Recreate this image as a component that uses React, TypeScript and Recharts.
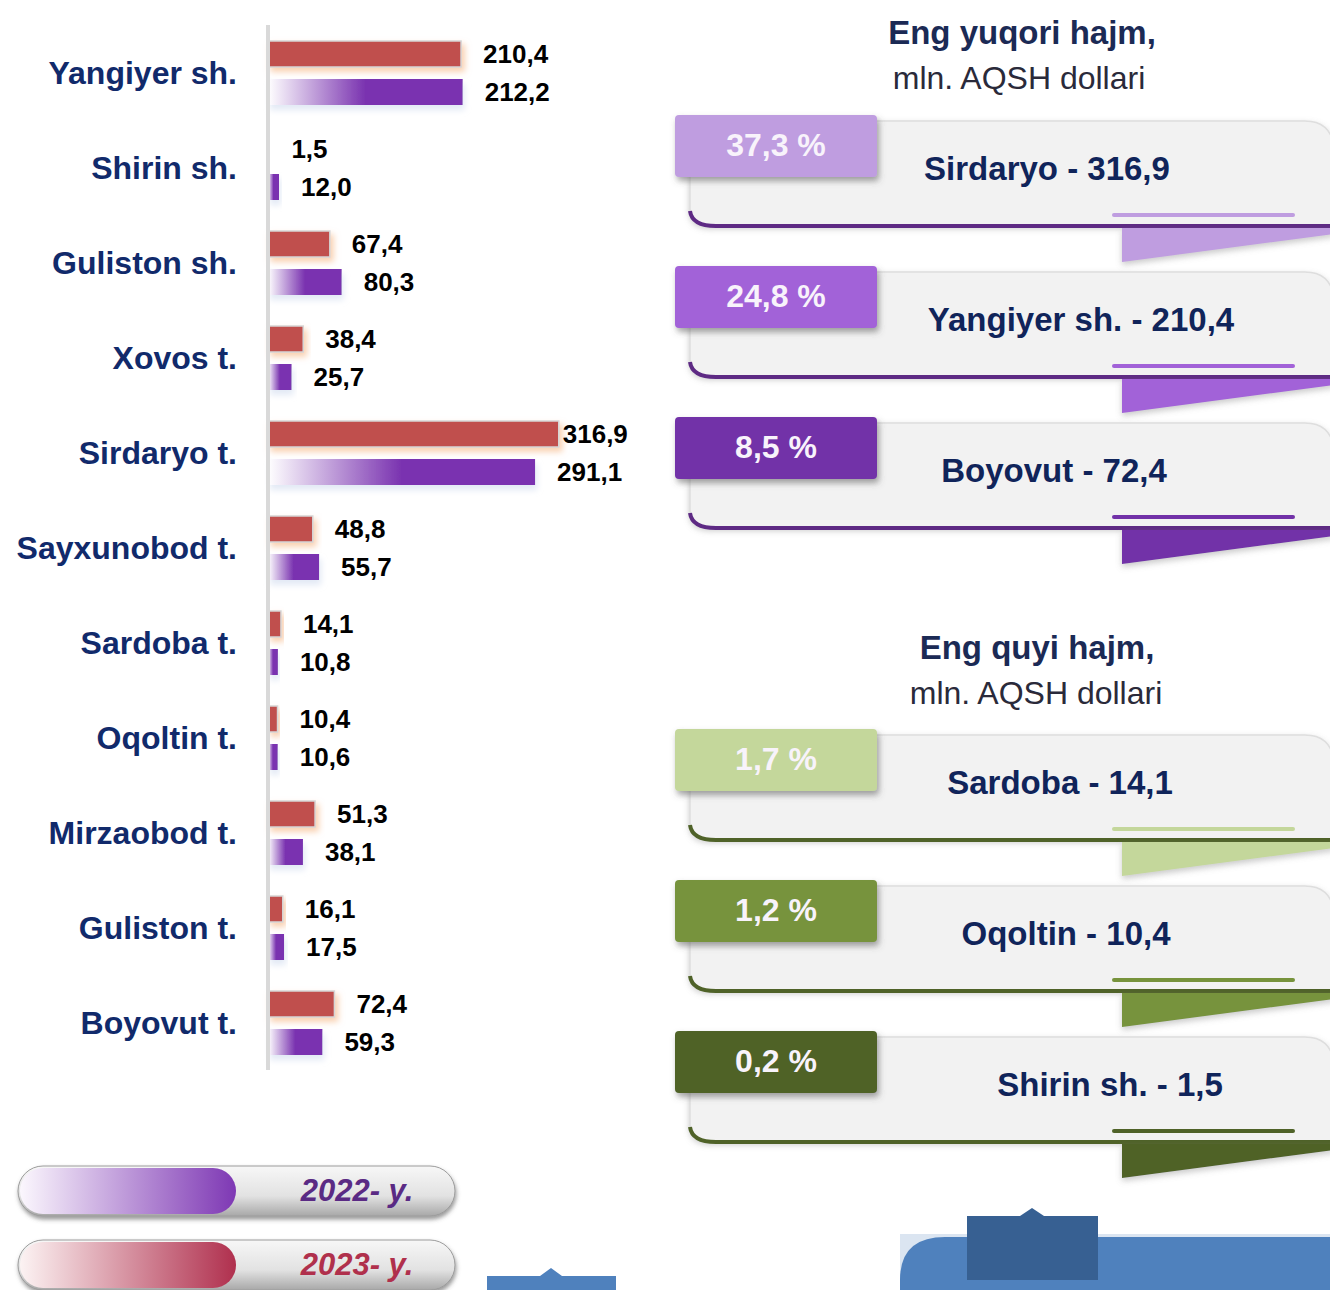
import { BarChart, Bar, XAxis, YAxis, LabelList, Legend } from "recharts";

const categories = [
  "Yangiyer sh.",
  "Shirin sh.",
  "Guliston sh.",
  "Xovos t.",
  "Sirdaryo t.",
  "Sayxunobod t.",
  "Sardoba t.",
  "Oqoltin t.",
  "Mirzaobod t.",
  "Guliston t.",
  "Boyovut t.",
];
const values2023 = [210.4, 1.5, 67.4, 38.4, 316.9, 48.8, 14.1, 10.4, 51.3, 16.1, 72.4];
const values2022 = [212.2, 12.0, 80.3, 25.7, 291.1, 55.7, 10.8, 10.6, 38.1, 17.5, 59.3];

const topShares = ["37,3 %", "24,8 %", "8,5 %"];
const topNames = ["Sirdaryo - 316,9", "Yangiyer sh. - 210,4", "Boyovut - 72,4"];
const bottomShares = ["1,7 %", "1,2 %", "0,2 %"];
const bottomNames = ["Sardoba - 14,1", "Oqoltin - 10,4", "Shirin sh. - 1,5"];

const data = categories.map((name, i) => ({
  name,
  y2023: values2023[i],
  y2022: values2022[i],
}));

const FONT = "'Liberation Sans', Arial, Helvetica, sans-serif";
const NAVY = "#112a6b";

const fmt = (v: number) => v.toFixed(1).replace(".", ",");

function CategoryTick({ y, payload }: any) {
  return (
    <text
      x={237}
      y={y}
      textAnchor="end"
      dominantBaseline="central"
      fontFamily={FONT}
      fontSize={32}
      fontWeight="bold"
      fill={NAVY}
    >
      {payload.value}
    </text>
  );
}

const renderValue = (props: any) => {
  const { x, y, width, height, value } = props;
  const gap = value > 300 ? 4 : 22;
  return (
    <text
      x={x + width + gap}
      y={y + height / 2}
      dominantBaseline="central"
      fontFamily={FONT}
      fontSize={26}
      fontWeight="bold"
      fill="#000"
    >
      {fmt(value)}
    </text>
  );
};

const RedBar = (p: any) => (
  <rect
    x={p.x}
    y={p.y}
    width={Math.max(p.width, 0)}
    height={p.height}
    fill="#c0504d"
    stroke="#d6d6d6"
    strokeWidth={1.5}
    filter="url(#glowRed)"
  />
);

const PurpleBar = (p: any) => (
  <rect
    x={p.x}
    y={p.y}
    width={Math.max(p.width, 0)}
    height={p.height}
    fill="url(#gradPurple)"
    filter="url(#glowBlue)"
  />
);

function LegendPills() {
  const pills = [
    { y: 6, label: "2022- y.", grad: "url(#pillPurple)", color: "#5a2a84" },
    { y: 80, label: "2023- y.", grad: "url(#pillRed)", color: "#b0304c" },
  ];
  return (
    <svg width={470} height={135} style={{ display: "block" }}>
      <defs>
        <linearGradient id="pillBody" x1="0" y1="0" x2="0" y2="1">
          <stop offset="0%" stopColor="#f7f7f7" />
          <stop offset="60%" stopColor="#e2e2e2" />
          <stop offset="100%" stopColor="#a8a8a8" />
        </linearGradient>
        <linearGradient id="pillPurple" x1="0" y1="0" x2="1" y2="0">
          <stop offset="0%" stopColor="#fbf7fd" />
          <stop offset="100%" stopColor="#7e38b4" />
        </linearGradient>
        <linearGradient id="pillRed" x1="0" y1="0" x2="1" y2="0">
          <stop offset="0%" stopColor="#fcf3f3" />
          <stop offset="100%" stopColor="#b0304e" />
        </linearGradient>
        <filter id="pillShadow" x="-5%" y="-20%" width="110%" height="150%">
          <feDropShadow dx="1" dy="3" stdDeviation="2" floodColor="#555" floodOpacity="0.6" />
        </filter>
      </defs>
      {pills.map((p) => (
        <g key={p.label}>
          <rect
            x={18}
            y={p.y}
            width={437}
            height={50}
            rx={25}
            fill="url(#pillBody)"
            stroke="#9c9c9c"
            strokeWidth={1}
            filter="url(#pillShadow)"
          />
          <rect x={20} y={p.y + 2} width={216} height={46} rx={23} fill={p.grad} />
          <text
            x={357}
            y={p.y + 24}
            textAnchor="middle"
            dominantBaseline="central"
            fontFamily={FONT}
            fontSize={31}
            fontWeight="bold"
            fontStyle="italic"
            fill={p.color}
          >
            {p.label}
          </text>
        </g>
      ))}
    </svg>
  );
}

const purpleTabs = ["#bf9de0", "#a262d8", "#7232a8"];
const greenTabs = ["#c4d79b", "#77933c", "#4f6228"];
const topY = [115, 266, 417];
const bottomY = [729, 880, 1031];
const topTextX = [1047, 1081, 1054];
const bottomTextX = [1060, 1066, 1110];

function Panel({
  y0,
  share,
  name,
  tab,
  dark,
  textX,
}: {
  y0: number;
  share: string;
  name: string;
  tab: string;
  dark: string;
  textX: number;
}) {
  const top = y0 + 6;
  const bottom = y0 + 110;
  return (
    <g>
      <path
        d={`M690 ${top} L1305 ${top} Q1330 ${top} 1334 ${top + 25} L1334 ${bottom} L712 ${bottom} Q690 ${bottom} 690 ${bottom - 16} Z`}
        fill="#f2f2f2"
        stroke="#dedede"
        strokeWidth={1.5}
        filter="url(#boxShadow)"
      />
      <path
        d={`M690 ${bottom - 14} Q692 ${bottom + 1} 716 ${bottom + 1} L1334 ${bottom + 1}`}
        fill="none"
        stroke={dark}
        strokeWidth={4}
      />
      <line
        x1={1114}
        y1={bottom - 10}
        x2={1293}
        y2={bottom - 10}
        stroke={tab}
        strokeWidth={4}
        strokeLinecap="round"
      />
      <polygon
        points={`1122,${bottom + 3} 1334,${bottom + 3} 1334,${bottom + 9} 1122,${bottom + 37}`}
        fill={tab}
        filter="url(#boxShadow)"
      />
      <rect
        x={675}
        y={y0}
        width={202}
        height={62}
        rx={4}
        fill={tab}
        filter="url(#tabShadow)"
      />
      <text
        x={776}
        y={y0 + 30}
        textAnchor="middle"
        dominantBaseline="central"
        fontFamily={FONT}
        fontSize={32}
        fontWeight="bold"
        fill="#f8f3fb"
      >
        {share}
      </text>
      <text
        x={textX}
        y={y0 + 53}
        textAnchor="middle"
        dominantBaseline="central"
        fontFamily={FONT}
        fontSize={33}
        fontWeight="bold"
        fill="#10245a"
      >
        {name}
      </text>
    </g>
  );
}

function Decorations() {
  return (
    <svg
      width={1330}
      height={1290}
      style={{ position: "absolute", left: 0, top: 0, pointerEvents: "none" }}
    >
      <defs>
        <filter id="boxShadow" x="-5%" y="-20%" width="110%" height="160%">
          <feDropShadow dx="0" dy="3" stdDeviation="3" floodColor="#888" floodOpacity="0.45" />
        </filter>
        <filter id="tabShadow" x="-5%" y="-20%" width="115%" height="160%">
          <feDropShadow dx="2" dy="4" stdDeviation="3" floodColor="#555" floodOpacity="0.55" />
        </filter>
      </defs>

      <text x={1022} y={32} textAnchor="middle" dominantBaseline="central" fontFamily={FONT} fontSize={33} fontWeight="bold" fill="#1b2a55">
        Eng yuqori hajm,
      </text>
      <text x={1019} y={78} textAnchor="middle" dominantBaseline="central" fontFamily={FONT} fontSize={32} fill="#2a2a3a">
        mln. AQSH dollari
      </text>

      {topShares.map((s, i) => (
        <Panel key={s} y0={topY[i]} share={s} name={topNames[i]} tab={purpleTabs[i]} dark="#5e2a84" textX={topTextX[i]} />
      ))}

      <text x={1037} y={647} textAnchor="middle" dominantBaseline="central" fontFamily={FONT} fontSize={33} fontWeight="bold" fill="#1b2a55">
        Eng quyi hajm,
      </text>
      <text x={1036} y={693} textAnchor="middle" dominantBaseline="central" fontFamily={FONT} fontSize={32} fill="#2a2a3a">
        mln. AQSH dollari
      </text>

      {bottomShares.map((s, i) => (
        <Panel key={s} y0={bottomY[i]} share={s} name={bottomNames[i]} tab={greenTabs[i]} dark="#4f6228" textX={bottomTextX[i]} />
      ))}

      <polygon points="487,1290 487,1276 540,1276 551,1268 562,1276 616,1276 616,1290" fill="#4f81bd" />
      <rect x={900} y={1234} width={430} height={56} fill="#dbe5f1" />
      <path d="M900 1290 L900 1280 Q900 1237 945 1237 L1330 1237 L1330 1290 Z" fill="#4f81bd" />
      <polygon points="967,1216 1020,1216 1032,1208 1044,1216 1098,1216 1098,1280 967,1280" fill="#376092" />
    </svg>
  );
}

export default function App() {
  return (
    <div
      style={{
        position: "absolute",
        left: 0,
        top: 0,
        width: 1330,
        height: 1290,
        overflow: "hidden",
        background: "#fff",
      }}
    >
      <BarChart
        width={1330}
        height={1290}
        data={data}
        layout="vertical"
        margin={{ top: 25, right: 695, bottom: 220, left: 0 }}
        barSize={26}
        barGap={12}
      >
        <defs>
          <linearGradient id="gradPurple" x1="0" y1="0" x2="1" y2="0">
            <stop offset="0%" stopColor="#ffffff" />
            <stop offset="50%" stopColor="#7a33b0" />
            <stop offset="100%" stopColor="#7a33b0" />
          </linearGradient>
          <filter id="glowRed" x="-10%" y="-40%" width="130%" height="200%">
            <feDropShadow dx="3" dy="4" stdDeviation="3" floodColor="#f7c39a" floodOpacity="0.8" />
          </filter>
          <filter id="glowBlue" x="-10%" y="-40%" width="130%" height="200%">
            <feDropShadow dx="2" dy="5" stdDeviation="3" floodColor="#dbe4f3" floodOpacity="0.8" />
          </filter>
        </defs>
        <XAxis type="number" domain={[0, 400]} hide />
        <YAxis
          type="category"
          dataKey="name"
          width={268}
          tick={<CategoryTick />}
          tickLine={false}
          axisLine={{ stroke: "#d9d9d9", strokeWidth: 4 }}
          interval={0}
        />
        <Legend
          layout="horizontal"
          verticalAlign="middle"
          align="center"
          content={() => <LegendPills />}
          wrapperStyle={{ left: 0, top: 1160, width: 470, height: 135 }}
        />
        <Bar dataKey="y2023" name="2023- y." shape={RedBar} isAnimationActive={false}>
          <LabelList dataKey="y2023" content={renderValue} />
        </Bar>
        <Bar dataKey="y2022" name="2022- y." shape={PurpleBar} isAnimationActive={false}>
          <LabelList dataKey="y2022" content={renderValue} />
        </Bar>
      </BarChart>
      <Decorations />
    </div>
  );
}
